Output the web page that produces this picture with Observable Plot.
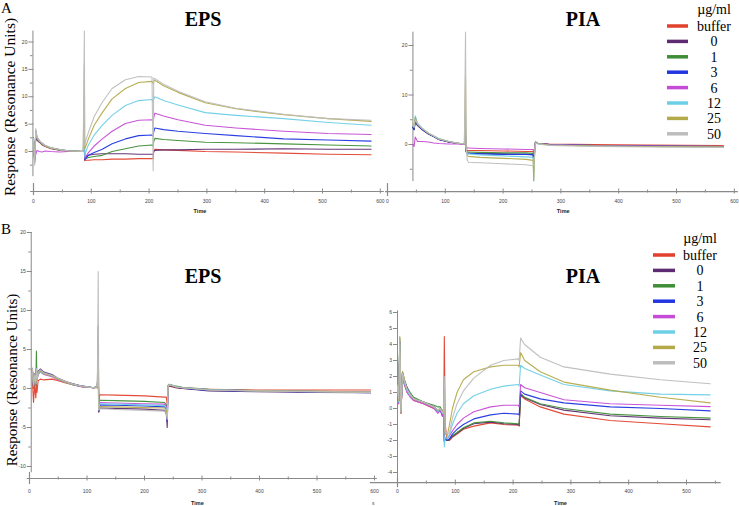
<!DOCTYPE html>
<html>
<head>
<meta charset="utf-8">
<script src="https://cdn.jsdelivr.net/npm/d3@7"></script>
<script src="https://cdn.jsdelivr.net/npm/@observablehq/plot@0.6"></script>
<style>
  html, body { margin: 0; padding: 0; background: #fff; }
  #fig { position: relative; width: 739px; height: 506px; overflow: hidden; background: #fff; }
  #fig svg { position: absolute; left: 0; top: 0; }
</style>
</head>
<body>
<div id="fig"></div>
<script>
// ---------- categories ----------
const concentrations = ["buffer", "0", "1", "3", "6", "12", "25", "50"];
const seriesColors = ["#e2412d", "#5e2b72", "#3e8e36", "#2136e0", "#c64bd6", "#6dcfe6", "#b4aa4a", "#bdbdbd"];
const legendTitle = "µg/ml";
const panelTitles = ["EPS", "PIA", "EPS", "PIA"];
const yTitle = "Response (Resonance Units)";
const xTitle = "Time";

// ---------- Panel A · EPS ----------
const tA_EPS = [0,2,4,6,10,15,20,30,45,60,86,88,88.6,90,95,105,119,136,159,182,205,207,208,210,225,250,297,350,433,510,584];
const A_EPS_buffer = [1.8,-1.5,3.0,2.0,1.7,1.2,0.9,0.5,0.25,0.1,0,0.5,-1.7,-1.6,-1.6,-1.5,-1.5,-1.4,-1.4,-1.3,-1.3,-1.3,0.1,0.4,0.3,0.2,0,-0.1,-0.3,-0.5,-0.6];
const A_EPS_c0 = [2.5,-2.0,3.8,2.6,2.0,1.5,1.1,0.7,0.35,0.15,0,0.5,-1.2,-1.0,-0.7,-0.5,-0.4,-0.4,-0.4,-0.5,-0.5,-0.6,0,0.2,0.3,0.3,0.4,0.4,0.5,0.4,0.4];
const A_EPS_c1 = [2.2,-1.6,3.2,2.3,1.9,1.4,1.0,0.6,0.3,0.1,0,1.0,-1.5,-1.3,-1.1,-0.9,-0.7,0,0.5,1.0,1.2,1.0,1.8,2.4,2.2,2.0,1.7,1.6,1.4,1.2,1.0];
const A_EPS_c3 = [2.0,-1.5,3.0,2.2,1.8,1.3,1.0,0.6,0.3,0.1,0,1.5,-1.5,-1.3,-0.7,-0.2,0.4,1.4,2.3,2.9,3.0,2.8,3.6,4.3,4.0,3.7,3.3,2.9,2.3,2.1,1.9];
const A_EPS_c6 = [-0.3,0.3,-0.5,0.2,0,-0.1,0.1,0,-0.1,0,0,2.0,-1.3,-1.0,-0.2,1.0,2.3,3.7,5.1,5.7,5.8,5.5,6.2,7.0,6.5,5.8,4.8,4.3,3.7,3.3,3.1];
const A_EPS_c12 = [2.4,-1.8,3.5,2.5,1.9,1.5,1.1,0.7,0.35,0.15,0,5.0,-1.0,-0.2,1.2,3.0,4.8,6.6,8.4,9.3,9.5,9.0,9.6,10.0,9.3,8.5,7.1,6.6,6.0,5.3,4.8];
const A_EPS_c25 = [2.0,-2.0,3.8,2.4,1.9,1.4,1.0,0.6,0.3,0.1,0,16,0.5,0.8,2.3,4.8,7.1,9.6,11.5,12.6,12.8,12.4,12.8,13.0,12.0,10.8,8.9,7.8,6.7,6.0,5.5];
const A_EPS_c50 = [2.3,-2.5,4.2,2.6,2.0,1.5,1.1,0.7,0.35,0.15,0,22,1.0,1.8,3.5,6.4,9.0,11.5,13.1,13.7,13.6,-3.5,13.4,13.3,12.3,11.0,9.1,7.9,6.8,6.0,5.7];

// ---------- Panel A · PIA ----------
const tA_PIA = [44,46,48,52,60,71,80,89,106,120,133,135,136,138,140,160,200,240,252,253,254,256,260,280,360,450,581];
const A_PIA_buffer = [3.5,3.1,4.7,3.9,3.0,2.1,1.6,1.0,0.5,0.25,0.1,1.0,-0.9,-1.2,-1.2,-1.2,-1.3,-1.4,-1.4,-2.5,-1.5,0.4,0.2,0.1,0,-0.1,-0.2];
const A_PIA_c0 = [3.4,3.0,4.6,3.8,3.0,2.1,1.6,1.0,0.5,0.25,0.1,1.5,-1.4,-1.7,-1.8,-1.8,-1.9,-2.0,-2.0,-3.0,-2.0,0.5,0.2,0,-0.2,-0.3,-0.4];
const A_PIA_c1 = [3.6,3.2,5.0,4.0,3.1,2.2,1.6,1.1,0.55,0.3,0.1,3.0,-1.2,-1.5,-1.5,-1.6,-1.7,-1.7,-1.8,-4.0,-2.0,0.4,0.2,0,-0.2,-0.3,-0.4];
const A_PIA_c3 = [3.5,3.0,4.8,3.9,3.0,2.1,1.6,1.0,0.5,0.25,0.1,2.0,-1.5,-1.8,-1.8,-1.9,-2.0,-2.0,-2.1,-3.5,-2.0,0.5,0.2,0,-0.2,-0.3,-0.4];
const A_PIA_c6 = [0,-0.4,1.5,0.6,0.6,0.5,0.3,0.2,0.1,0.1,0,1.0,-0.3,-0.7,-0.7,-0.8,-0.9,-1.0,-1.0,-2.0,-1.0,0.5,0.2,0,-0.2,-0.3,-0.4];
const A_PIA_c12 = [3.8,3.5,5.8,4.3,3.3,2.3,1.7,1.2,0.6,0.3,0.1,6.5,-1.0,-1.8,-1.9,-2.1,-2.3,-2.5,-2.6,-7.3,-3.0,0.5,0.2,-0.1,-0.3,-0.4,-0.5];
const A_PIA_c25 = [4.2,3.6,5.5,4.0,3.2,2.2,1.7,1.1,0.6,0.3,0.1,13.9,-0.5,-2.2,-2.4,-2.6,-2.8,-3.0,-3.2,-7.3,-3.0,0.4,0.2,-0.1,-0.3,-0.4,-0.5];
const A_PIA_c50 = [4.0,3.5,5.0,4.2,3.2,2.3,1.7,1.1,0.6,0.3,0.1,22.7,-0.5,-3.2,-3.6,-3.7,-3.9,-4.1,-4.3,-4.3,-2.5,0.3,0.1,-0.2,-0.4,-0.5,-0.6];

// ---------- Panel B · EPS ----------
const tB_EPS = [5,7,9,11,12,13,15,19,25,39,50,63,75,92,112,118,119.5,120.5,122,150,200,235,238,239.5,241,243,255,266,312,393,500,593];
const B_EPS_buffer = [1.0,-1.8,0.5,-1.2,0.5,-0.5,1.0,1.2,1.1,1.2,1.0,0.7,0.5,0.2,0.1,0.1,1.0,-3.0,-0.8,-0.85,-0.95,-1.1,-1.1,-2.0,0.2,0.3,0.1,0.0,-0.1,-0.2,-0.2,-0.2];
const B_EPS_c0 = [2.6,0.4,1.9,0.8,2.6,1.3,2.2,2.5,2.1,1.8,1.3,0.9,0.6,0.3,0.1,0.3,8.0,-3.0,-2.5,-2.55,-2.65,-2.8,-3.3,-5.0,0.2,0.4,0.1,0.0,-0.3,-0.4,-0.5,-0.55];
const B_EPS_c1 = [2.4,0.0,1.6,0.4,4.8,1.2,2.0,2.3,1.9,1.6,1.2,0.8,0.5,0.25,0.1,0.3,2.7,-2.5,-1.5,-1.55,-1.65,-1.8,-2.1,-3.0,0.4,0.55,0.3,0.15,-0.1,-0.25,-0.35,-0.45];
const B_EPS_c3 = [2.5,0.3,1.7,0.7,2.5,1.1,2.0,2.3,2.0,1.7,1.2,0.85,0.6,0.3,0.1,0.3,3.5,-2.9,-2.1,-2.15,-2.25,-2.35,-2.6,-4.2,0.3,0.5,0.2,0.05,-0.25,-0.35,-0.45,-0.55];
const B_EPS_c6 = [2.2,0.2,1.5,0.5,2.3,1.0,1.8,2.1,1.8,1.5,1.1,0.8,0.5,0.2,0.1,0.2,2.5,-2.6,-1.8,-1.85,-1.95,-2.0,-2.3,-3.2,0.3,0.45,0.2,0.1,-0.15,-0.3,-0.4,-0.5];
const B_EPS_c12 = [2.3,0.4,1.5,0.7,2.6,1.1,1.9,2.2,1.9,1.6,1.2,0.8,0.5,0.25,0.1,0.2,3.0,-2.7,-1.95,-2.0,-2.1,-2.2,-2.5,-3.5,0.4,0.5,0.25,0.1,-0.15,-0.3,-0.4,-0.5];
const B_EPS_c25 = [2.4,0.3,1.6,0.6,2.4,1.0,2.0,2.2,1.9,1.6,1.2,0.8,0.55,0.25,0.1,0.2,4.0,-2.6,-2.3,-2.35,-2.45,-2.5,-2.8,-3.8,0.3,0.5,0.2,0.1,-0.2,-0.3,-0.4,-0.5];
const B_EPS_c50 = [2.6,0.5,1.8,0.8,2.5,1.2,2.1,2.4,2.0,1.7,1.3,0.9,0.6,0.3,0.1,0.3,15,-2.8,-2.6,-2.7,-2.8,-2.9,-3.2,-4.0,0.3,0.5,0.2,0.1,-0.2,-0.3,-0.4,-0.5];

// ---------- Panel B · PIA ----------
const tB_PIA = [0,2,4,6,8.6,12,16.7,22,28,45,63,70,74,78,80,81,82.5,86,90,95,103,114,132,161,184,209,210.5,213,220,247,288,368,455,541];
const B_PIA_buffer = [1.2,0.3,3.8,-0.3,2.0,1.5,1.0,0.8,0.5,0.3,0.0,-0.2,-0.1,-0.4,0,4.5,-1.0,-2.0,-2.0,-1.8,-1.6,-1.3,-1.1,-0.9,-1.0,-1.05,-1.1,0.8,0.6,0.1,-0.35,-0.75,-0.95,-1.15];
const B_PIA_c0 = [1.4,0.5,4.1,-0.2,2.2,1.7,1.2,0.9,0.6,0.4,0.1,-0.1,0,-0.3,0,-2.0,-1.9,-2.0,-1.95,-1.75,-1.55,-1.25,-0.95,-0.85,-0.95,-1.0,-1.05,0.9,0.65,0.25,-0.1,-0.45,-0.6,-0.7];
const B_PIA_c1 = [1.5,0.6,4.4,-0.1,2.3,1.8,1.3,1.0,0.7,0.4,0.2,0.1,0.1,-0.2,0,-2.0,-1.9,-2.0,-1.9,-1.7,-1.5,-1.2,-0.9,-0.8,-0.9,-0.95,-1.0,0.95,0.7,0.3,0.0,-0.35,-0.5,-0.6];
const B_PIA_c3 = [1.4,0.5,4.2,-0.2,2.2,1.7,1.3,0.9,0.6,0.4,0.1,-0.2,-0.1,-0.5,-0.1,-2.1,-1.9,-2.0,-1.9,-1.6,-1.3,-1.0,-0.65,-0.4,-0.3,-0.35,-0.4,1.1,0.9,0.6,0.35,0.1,0.0,-0.15];
const B_PIA_c6 = [1.2,0.3,3.5,-0.3,1.9,1.5,1.0,0.7,0.5,0.3,0.0,-0.3,-0.1,-0.5,-0.1,-2.0,-1.8,-1.9,-1.7,-1.4,-1.0,-0.6,-0.2,0.1,0.2,0.2,0.1,1.5,1.3,1.0,0.55,0.3,0.2,0.12];
const B_PIA_c12 = [1.3,0.4,4.0,-0.2,2.1,1.6,1.1,0.8,0.6,0.4,0.1,-0.2,0,-0.3,-0.1,-2.4,-1.8,-1.9,-1.6,-1.0,-0.3,0.3,0.8,1.2,1.4,1.5,1.4,2.7,2.5,2.1,1.5,1.1,0.9,0.85];
const B_PIA_c25 = [1.5,0.5,4.5,-0.3,2.3,1.8,1.2,0.9,0.6,0.4,0.1,-0.1,0,-0.2,0,1.0,-1.6,-1.7,-1.0,0.0,1.0,1.8,2.3,2.6,2.7,2.7,2.6,3.5,3.0,2.3,1.65,1.15,0.7,0.35];
const B_PIA_c50 = [1.4,0.6,4.3,-0.2,2.2,1.7,1.2,0.9,0.6,0.4,0.1,-0.1,0,-0.3,0,2.0,-1.4,-1.6,-1.5,-0.6,0.3,1.1,1.9,2.7,3.0,3.1,3.0,4.4,4.0,3.2,2.6,2.15,1.8,1.55];

// ---------- tick labels ----------
const xTicksA = [0,100,200,300,400,500,600];
const xTicksB_EPS = [0,100,200,300,400,500,600];
const xTicksB_PIA = [0,100,200,300,400,500];
const xMinorTicks = [50,150,250,350,450,550];
const yTicksA_EPS = [0,5,10,15,20];
const yTicksA_PIA = [0,10,20];
const yTicksB_EPS = [-10,-5,0,5,10,15,20];
const yTicksB_PIA = [-4,-3,-2,-1,0,1,2,3,4,5,6];

// ---------- helpers ----------
function toRows(time, arrays) {
  const rows = [];
  arrays.forEach((vals, i) => {
    vals.forEach((v, j) => rows.push({t: time[j], v, s: concentrations[i]}));
  });
  return rows;
}

const axisColor = "#8a8a8a";
const labelColor = "#444";

function panel(p) {
  const kx = (p.xr[1] - p.xr[0]) / (p.xd[1] - p.xd[0]);
  const ky = Math.abs(p.yr[1] - p.yr[0]) / (p.yd[1] - p.yd[0]);
  const rows = toRows(p.time, p.series);
  return Plot.plot({
    width: 739, height: 506, margin: 0,
    style: {background: "transparent", fontFamily: "Arial, 'Liberation Sans', sans-serif", overflow: "visible"},
    x: {type: "linear", domain: p.xd, range: p.xr, axis: null},
    y: {type: "linear", domain: p.yd, range: p.yr, axis: null},
    color: {type: "ordinal", domain: concentrations, range: seriesColors},
    marks: [
      // y axis
      Plot.ruleX([p.yAxisT], {x: d => d, y1: () => p.yAxisLo, y2: () => p.yAxisHi, stroke: axisColor, strokeWidth: 1}),
      Plot.ruleY(p.yTicks, {y: d => d, x1: () => p.yAxisT - 4 / kx, x2: () => p.yAxisT + 1 / kx, stroke: axisColor}),
      Plot.ruleY(p.yMinor, {y: d => d, x1: () => p.yAxisT - 2.5 / kx, x2: () => p.yAxisT, stroke: axisColor}),
      Plot.text(p.yTicks, {x: () => p.yAxisT, y: d => d, text: d => String(d), dx: -5.5, textAnchor: "end", fontSize: 5, fill: labelColor}),
      // x axis
      Plot.ruleY([p.xAxisV], {y: d => d, x1: () => p.xAxisFrom, x2: () => p.xAxisTo, stroke: axisColor, strokeWidth: 1.2}),
      Plot.ruleX(p.xTicks, {x: d => d, y1: () => p.xAxisV - 2.5 / ky, y2: () => p.xAxisV + 2.5 / ky, stroke: axisColor}),
      Plot.ruleX(p.xMinor, {x: d => d, y1: () => p.xAxisV - 1.5 / ky, y2: () => p.xAxisV + 1.5 / ky, stroke: axisColor}),
      Plot.ruleX([0], {x: d => d, y1: () => p.stubLo, y2: () => p.stubHi, stroke: axisColor, strokeWidth: 1.2}),
      Plot.text(p.xTicks, {x: d => d, y: () => p.xAxisV, text: d => String(d), dy: p.tickDy, fontSize: 5, fill: labelColor}),
      Plot.text([xTitle], {x: () => p.timeT, y: () => p.xAxisV, text: d => d, dy: p.timeDy, fontSize: 5.5, fontWeight: "bold", fill: "#222"}),
      // sensorgram traces
      Plot.line(rows, {x: "t", y: "v", z: "s", stroke: "s", strokeWidth: 1.1, strokeOpacity: 0.95, curve: "linear"})
    ]
  });
}

const fig = document.getElementById("fig");

fig.appendChild(panel({
  time: tA_EPS,
  series: [A_EPS_buffer, A_EPS_c0, A_EPS_c1, A_EPS_c3, A_EPS_c6, A_EPS_c12, A_EPS_c25, A_EPS_c50],
  xd: [0, 500], xr: [33, 322], yd: [0, 20], yr: [151, 41.5],
  yAxisT: -1, yAxisLo: -4.6, yAxisHi: 22, yTicks: yTicksA_EPS, yMinor: [-2.5, 2.5, 7.5, 12.5, 17.5],
  xAxisV: -7.31, xAxisFrom: -5, xAxisTo: 607, xTicks: xTicksA, xMinor: xMinorTicks,
  stubLo: -5.84, stubHi: -8.04, tickDy: 10, timeT: 288, timeDy: 20
}));

fig.appendChild(panel({
  time: tA_PIA,
  series: [A_PIA_buffer, A_PIA_c0, A_PIA_c1, A_PIA_c3, A_PIA_c6, A_PIA_c12, A_PIA_c25, A_PIA_c50],
  xd: [0, 500], xr: [387, 676], yd: [0, 20], yr: [144, 45],
  yAxisT: 44, yAxisLo: -7.5, yAxisHi: 22.7, yTicks: yTicksA_PIA, yMinor: [-5, 5, 15],
  xAxisV: -9.5, xAxisFrom: -3.5, xAxisTo: 607, xTicks: xTicksA, xMinor: xMinorTicks,
  stubLo: -7.9, stubHi: -10.5, tickDy: 10, timeT: 304, timeDy: 20
}));

fig.appendChild(panel({
  time: tB_EPS,
  series: [B_EPS_buffer, B_EPS_c0, B_EPS_c1, B_EPS_c3, B_EPS_c6, B_EPS_c12, B_EPS_c25, B_EPS_c50],
  xd: [0, 500], xr: [29, 316.5], yd: [0, 20], yr: [388, 232],
  yAxisT: 3, yAxisLo: -10.8, yAxisHi: 20, yTicks: yTicksB_EPS, yMinor: [-7.5, -2.5, 2.5, 7.5, 12.5, 17.5],
  xAxisV: -11.54, xAxisFrom: -4, xAxisTo: 605, xTicks: xTicksB_EPS, xMinor: xMinorTicks,
  stubLo: -10.77, stubHi: -12.3, tickDy: 12.5, timeT: 292, timeDy: 25
}));

fig.appendChild(panel({
  time: tB_PIA,
  series: [B_PIA_buffer, B_PIA_c0, B_PIA_c1, B_PIA_c3, B_PIA_c6, B_PIA_c12, B_PIA_c25, B_PIA_c50],
  xd: [0, 500], xr: [397, 686], yd: [0, 6], yr: [408, 312],
  yAxisT: 0, yAxisLo: -4.5, yAxisHi: 6.1, yTicks: yTicksB_PIA, yMinor: [],
  xAxisV: -4.63, xAxisFrom: -47, xAxisTo: 560, xTicks: xTicksB_PIA, xMinor: xMinorTicks,
  stubLo: -4.3, stubHi: -4.95, tickDy: 9, timeT: 282, timeDy: 21
}));

// ---------- annotations: panel letters, titles, axis titles, legends ----------
const svg = d3.select(fig).append("svg").attr("width", 739).attr("height", 506)
  .style("font-family", "'Liberation Serif', 'Times New Roman', serif");

svg.append("text").attr("x", 1).attr("y", 12.5).attr("font-size", 15).text("A");
svg.append("text").attr("x", 1).attr("y", 234).attr("font-size", 15).text("B");

const titlePos = [[203, 26], [583, 26], [203, 283], [583, 283]];
panelTitles.forEach((t, i) => {
  svg.append("text").attr("x", titlePos[i][0]).attr("y", titlePos[i][1])
    .attr("text-anchor", "middle").attr("font-size", 20).attr("font-weight", "bold").text(t);
});

[[9, 107, 15.5], [12, 380, 15]].forEach(([x, y, fs]) => {
  svg.append("text").attr("transform", `translate(${x},${y}) rotate(-90)`)
    .attr("text-anchor", "middle").attr("dominant-baseline", "central")
    .attr("font-size", fs).text(yTitle);
});

function legend(x0, x1, labelX, titleY, rowY0, step) {
  svg.append("text").attr("x", labelX).attr("y", titleY).attr("text-anchor", "middle")
    .attr("font-size", 14).text(legendTitle);
  concentrations.forEach((c, i) => {
    const y = rowY0 + i * step;
    svg.append("line").attr("x1", x0).attr("x2", x1).attr("y1", y).attr("y2", y)
      .attr("stroke", seriesColors[i]).attr("stroke-width", 3.5);
    svg.append("text").attr("x", labelX).attr("y", y + 5).attr("text-anchor", "middle")
      .attr("font-size", 14).text(c);
  });
}
legend(667, 688, 714, 14, 26, 15.4);
legend(653, 675, 700, 243, 255, 15.4);

svg.append("text").attr("x", 372).attr("y", 505).attr("font-size", 5)
  .attr("font-family", "Arial, sans-serif").attr("fill", "#444").text("s");
</script>
</body>
</html>
